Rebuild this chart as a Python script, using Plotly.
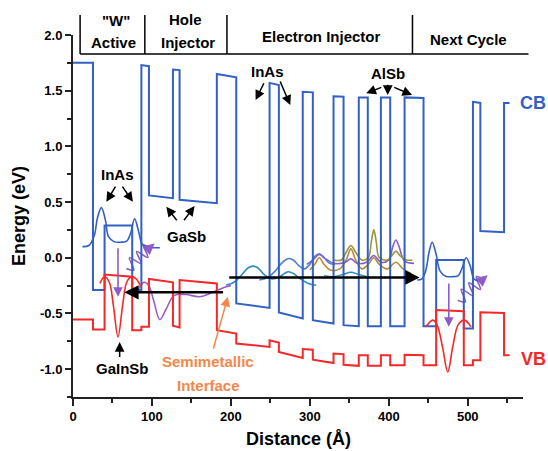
import plotly.graph_objects as go

# ---------------- band-edge profiles (distance in Å, energy in eV) ----------------
cb_x = [0, 25.3, 25.3, 40, 40, 75, 75, 86.6, 86.6, 96.2, 96.2, 126.6, 126.6, 135, 135, 182.2,
        182.2, 206.8, 206.8, 249, 249, 260.8, 260.8, 291, 291, 303.8, 303.8, 330, 330, 342.7,
        342.7, 362, 362, 373.4, 373.4, 390, 390, 401.8, 401.8, 420, 420, 444, 444, 460, 460,
        495, 495, 506.6, 506.6, 516, 516, 546, 546, 553]
cb_e = [1.75, 1.75, -0.29, -0.29, 0.29, 0.29, -0.29, -0.29, 1.73, 1.72, 0.56, 0.535, 1.69, 1.685,
        0.52, 0.49, 1.65, 1.62, -0.41, -0.45, 1.57, 1.55, -0.49, -0.545, 1.49, 1.485, -0.56,
        -0.59, 1.45, 1.445, -0.605, -0.615, 1.44, 1.44, -0.615, -0.615, 1.44, 1.44, -0.615,
        -0.615, 1.44, 1.435, -0.615, -0.615, -0.02, -0.02, -0.635, -0.635, 1.40, 1.39, 0.24,
        0.23, 1.39, 1.39]

vb_x = [0, 25.3, 25.3, 40, 40, 75, 75, 86.6, 86.6, 96.2, 96.2, 126.6, 126.6, 135, 135, 182.2,
        182.2, 206.8, 206.8, 249, 249, 260.8, 260.8, 291, 291, 303.8, 303.8, 330, 330, 342.7,
        342.7, 362, 362, 373.4, 373.4, 390, 390, 401.8, 401.8, 420, 420, 444, 444, 460, 460,
        495, 495, 506.6, 506.6, 516, 516, 546, 546, 553]
vb_e = [-0.555, -0.555, -0.645, -0.645, -0.15, -0.17, -0.65, -0.65, -0.62, -0.62, -0.19, -0.22,
        -0.61, -0.625, -0.20, -0.23, -0.65, -0.68, -0.77, -0.80, -0.74, -0.76, -0.845, -0.90,
        -0.82, -0.825, -0.915, -0.945, -0.86, -0.865, -0.96, -0.97, -0.875, -0.875, -0.97,
        -0.97, -0.875, -0.875, -0.965, -0.965, -0.87, -0.875, -0.965, -0.965, -0.47, -0.48,
        -0.965, -0.965, -0.92, -0.92, -0.49, -0.495, -0.875, -0.875]

# ---------------- wavefunctions ----------------
# electron states of the "W" active wells
we1_x = [12, 20, 27, 31, 36, 41, 45, 52, 60, 68, 73, 78, 83, 88, 96, 110]
we1_e = [0.10, 0.11, 0.20, 0.36, 0.45, 0.34, 0.19, 0.145, 0.14, 0.15, 0.22, 0.35, 0.24, 0.12, 0.095, 0.09]
we2_x = [436, 442, 447, 451, 455, 460, 465, 472, 480, 488, 493, 498, 503, 508, 515, 522]
we2_e = [-0.20, -0.19, -0.11, 0.05, 0.14, 0.03, -0.12, -0.165, -0.17, -0.16, -0.09, 0.0, -0.07, -0.19, -0.21, -0.21]

# hole states in GaInSb
wh1_x = [34, 40, 46, 51, 57, 63, 68, 74, 80, 86]
wh1_e = [-0.23, -0.17, -0.22, -0.42, -0.71, -0.42, -0.22, -0.17, -0.19, -0.26]
wh2_x = [447, 455.7, 461, 468, 474.7, 481, 488, 495.8, 504]
wh2_e = [-0.62, -0.56, -0.60, -0.80, -1.025, -0.80, -0.60, -0.56, -0.62]

# hole-injector state
wp_x = [77, 84, 90, 96, 102, 110, 118, 128, 143, 160, 177, 192, 200]
wp_e = [-0.34, -0.27, -0.22, -0.25, -0.38, -0.555, -0.46, -0.34, -0.33, -0.35, -0.31, -0.265, -0.25]

# electron-injector states
wt1_x = [194, 204, 214, 222, 228, 234, 242, 252, 262, 268, 273, 279, 288, 298, 308]
wt1_e = [-0.245, -0.22, -0.15, -0.09, -0.075, -0.09, -0.15, -0.19, -0.17, -0.14, -0.125, -0.14, -0.19, -0.23, -0.246]
wt2_x = [236, 246, 256, 264, 270, 274, 279, 286, 293, 300, 306, 312, 318, 325, 332]
wt2_e = [-0.20, -0.18, -0.12, -0.05, -0.015, -0.006, -0.02, -0.07, -0.10, -0.06, 0.01, 0.035, 0.0, -0.05, -0.06]
wt3_x = [318, 330, 342, 352, 362, 372]
wt3_e = [-0.16, -0.17, -0.15, -0.13, -0.15, -0.17]
wpu_x = [296, 304, 312, 320, 330, 345, 352, 360, 372, 381, 390, 400, 405, 409, 413, 420, 432]
wpu_e = [-0.06, -0.02, 0.03, -0.01, -0.05, -0.04, -0.01, -0.05, -0.04, 0.02, -0.04, -0.02, 0.10, 0.16, 0.10, -0.03, -0.05]
wol_x = [331, 340, 346, 352, 358, 366, 374, 378, 381, 384, 388, 398, 404, 409, 414, 422, 430]
wol_e = [-0.02, -0.02, 0.05, 0.11, 0.05, -0.02, 0.0, 0.15, 0.25, 0.15, 0.0, -0.02, 0.02, 0.06, 0.02, -0.02, -0.02]
wbr_x = [300, 306, 312, 318, 326, 338, 346, 352, 358, 366, 374, 381, 388, 398, 409, 418, 428]
wbr_e = [-0.11, -0.06, 0.0, -0.06, -0.11, -0.10, -0.02, 0.08, -0.02, -0.10, -0.06, 0.0, -0.06, -0.10, -0.04, -0.10, -0.14]

# photon emission squiggles
ph1_x = [67.6, 77.0, 71.5, 86.3, 80.5, 94.8, 89.4, 97.6]
ph1_e = [-0.096, -0.11, 0.0, -0.051, 0.057, 0.003, 0.112, 0.093]
ph2_x = [487.3, 497.0, 491.8, 506.8, 501.3, 516.0, 510.8, 519.6]
ph2_e = [-0.381, -0.397, -0.282, -0.339, -0.225, -0.285, -0.169, -0.19]

# ---------------- axes ----------------
X_RANGE = [0, 570]
Y_RANGE = [-1.25, 2.0]
x_ticks = [0, 100, 200, 300, 400, 500]
y_ticks = [-1.0, -0.5, 0.0, 0.5, 1.0, 1.5, 2.0]
y_tick_text = ["-1.0", "-0.5", "0.0", "0.5", "1.0", "1.5", "2.0"]

# section header above the plot
sec_edges = [9, 91, 195, 430]
sec_end = 577
sec_labels = [('"W"', 55, 1.040), ("Active", 51, 0.979), ("Hole", 142, 1.043),
              ("Injector", 145.5, 0.979), ("Electron Injector", 315, 0.995),
              ("Next Cycle", 501, 0.988)]

CB_COL = "#3260c4"
VB_COL = "#f42828"
PURPLE = "#8e5bc7"
ORANGE = "#f4874b"
FONT = "Liberation Sans, Arial, sans-serif"

# plot-area geometry in page pixels (used for labels outside the axes)
PLOT_L, PLOT_R, PLOT_T, PLOT_B = 73, 523, 35, 397


def paper_x(px):
    return (px - PLOT_L) / (PLOT_R - PLOT_L)


def paper_y(py):
    return (PLOT_B - py) / (PLOT_B - PLOT_T)


fig = go.Figure()


def line(x, y, color, width=2.0, spline=False):
    fig.add_trace(go.Scatter(
        x=x, y=y, mode="lines", hoverinfo="skip", showlegend=False,
        line=dict(color=color, width=width, shape="spline" if spline else "linear",
                  smoothing=1.0)))


# wavefunctions under the band edges
line(wt1_x, wt1_e, "#2a8cc2", 1.6, True)
line(wt2_x, wt2_e, "#4f7fd0", 1.6, True)
line(wt3_x, wt3_e, "#2a8cc2", 1.4, True)
line(wbr_x, wbr_e, "#b88a3a", 1.6, True)
line(wpu_x, wpu_e, "#8a5fc8", 1.6, True)
line(wol_x, wol_e, "#9a9630", 1.6, True)
line(wp_x, wp_e, "#9a5fc0", 1.6, True)
line(ph1_x, ph1_e, PURPLE, 1.6, True)
line(ph2_x, ph2_e, PURPLE, 1.6, True)

# band edges
line(cb_x, cb_e, CB_COL, 2.0)
line(vb_x, vb_e, VB_COL, 2.0)

# active-region states
line(we1_x, we1_e, CB_COL, 1.6, True)
line(we2_x, we2_e, CB_COL, 1.6, True)
line(wh1_x, wh1_e, VB_COL, 1.6, True)
line(wh2_x, wh2_e, VB_COL, 1.6, True)

annotations = []


def text(s, x, y, color="black", size=15, xref="x", yref="y"):
    annotations.append(dict(text=s, x=x, y=y, xref=xref, yref=yref, showarrow=False,
                            font=dict(family=FONT, size=size, color=color, weight="bold"),
                            xanchor="center", yanchor="middle"))


def arrow(x0, y0, x1, y1, color="black", width=1.5, size=1.3, head=2):
    annotations.append(dict(text="", x=x1, y=y1, ax=x0, ay=y0, xref="x", yref="y",
                            axref="x", ayref="y", showarrow=True, arrowhead=head,
                            arrowsize=size, arrowwidth=width, arrowcolor=color,
                            standoff=0, startstandoff=0))


# material labels
text("InAs", 55.9, 0.751)
arrow(54.9, 0.652, 42.3, 0.502)
arrow(61.3, 0.652, 75.9, 0.502)
text("GaSb", 143.9, 0.194)
arrow(132.9, 0.323, 118.2, 0.457)
arrow(139.2, 0.323, 154.0, 0.464)
text("InAs", 246.5, 1.668)
arrow(242.7, 1.58, 231.3, 1.416)
arrow(261.6, 1.596, 275.2, 1.371)
text("AlSb", 398.4, 1.65)
arrow(392.4, 1.535, 371.4, 1.476)
arrow(398.7, 1.566, 398.7, 1.461)
arrow(405.0, 1.535, 429.6, 1.461)
text("GaInSb", 62.3, -0.992)
arrow(59.1, -0.905, 59.1, -0.756)
text("Semimetallic", 171, -0.935, ORANGE)
text("Interface", 171, -1.145, ORANGE)
arrow(177.2, -0.83, 196.2, -0.35, ORANGE, 1.5)

# band labels sit just right of the axes
text("CB", paper_x(533), paper_y(103), CB_COL, 18, xref="paper", yref="paper")
text("VB", paper_x(533), paper_y(359), VB_COL, 18, xref="paper", yref="paper")

# carrier transport
arrow(196, -0.177, 439, -0.177, "black", 2.6, 1.1)
arrow(192, -0.31, 65, -0.31, "black", 2.6, 1.1)

# radiative transitions
arrow(57, 0.098, 57, -0.35, PURPLE, 1.6, 1.2)
arrow(476, -0.217, 476, -0.62, PURPLE, 1.6, 1.2)
arrow(97.6, 0.093, 103.4, 0.128, PURPLE, 1.6, 1.4)
arrow(519.6, -0.19, 525.3, -0.156, PURPLE, 1.6, 1.4)

# section header
span = X_RANGE[1] - X_RANGE[0]
shapes = []
HDR_TOP, HDR_BOT = paper_y(15), paper_y(54)
for e in sec_edges:
    px = (e - X_RANGE[0]) / span
    shapes.append(dict(type="line", xref="paper", yref="paper", x0=px, x1=px,
                       y0=HDR_BOT, y1=HDR_TOP, line=dict(color="black", width=1.5)))
shapes.append(dict(type="line", xref="paper", yref="paper",
                   x0=(sec_edges[0] - X_RANGE[0]) / span, x1=(sec_end - X_RANGE[0]) / span,
                   y0=HDR_BOT, y1=HDR_BOT, line=dict(color="black", width=1.5)))
for s, xv, yp in sec_labels:
    text(s, xv, yp, yref="paper")

# axis titles
title_font = dict(family=FONT, size=18, color="black", weight="bold")
annotations.append(dict(text="Energy (eV)", x=paper_x(19), y=paper_y(216), xref="paper",
                        yref="paper", showarrow=False, textangle=-90, xanchor="center",
                        yanchor="middle", font=title_font))
annotations.append(dict(text="Distance (Å)", x=0.5, y=paper_y(439), xref="paper",
                        yref="paper", showarrow=False, xanchor="center", yanchor="middle",
                        font=title_font))

tick_font = dict(family=FONT, size=13, color="black", weight="bold")
fig.update_layout(
    width=548, height=451,
    margin=dict(l=PLOT_L, r=548 - PLOT_R, t=PLOT_T, b=451 - PLOT_B, autoexpand=False),
    paper_bgcolor="white", plot_bgcolor="white",
    showlegend=False,
    annotations=annotations, shapes=shapes,
    xaxis=dict(range=X_RANGE, tickvals=x_ticks, ticks="outside", ticklen=7, tickwidth=1.5,
               tickcolor="#222", showline=True, linecolor="#222", linewidth=1.5,
               showgrid=False, zeroline=False, tickfont=tick_font,
               minor=dict(dtick=50, tick0=0, ticks="outside", ticklen=4, tickwidth=1.5,
                          tickcolor="#222", showgrid=False)),
    yaxis=dict(range=Y_RANGE, tickvals=y_ticks, ticktext=y_tick_text, ticks="outside",
               ticklen=6, tickwidth=1.5, tickcolor="#222", showline=True, linecolor="#222",
               linewidth=2, showgrid=False, zeroline=False, tickfont=tick_font,
               minor=dict(dtick=0.25, tick0=0, ticks="outside", ticklen=4, tickwidth=1.5,
                          tickcolor="#222", showgrid=False)),
)

fig.write_html("out.html")
